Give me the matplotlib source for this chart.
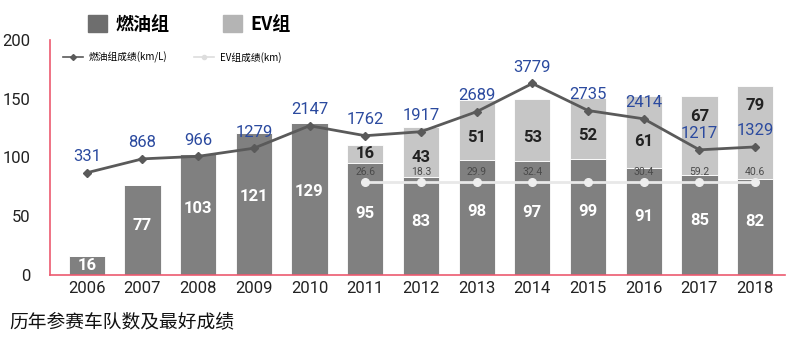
import matplotlib.pyplot as plt
from matplotlib.patches import Patch
from matplotlib.lines import Line2D

plt.rcParams['font.family'] = ['Roboto', 'Noto Sans CJK SC', 'DejaVu Sans']

# data
years = ['2006', '2007', '2008', '2009', '2010', '2011', '2012',
         '2013', '2014', '2015', '2016', '2017', '2018']
fuel_teams = [16, 77, 103, 121, 129, 95, 83, 98, 97, 99, 91, 85, 82]
ev_teams = [0, 0, 0, 0, 0, 16, 43, 51, 53, 52, 61, 67, 79]
fuel_best = [331, 868, 966, 1279, 2147, 1762, 1917, 2689, 3779, 2735, 2414, 1217, 1329]
ev_best = [None, None, None, None, None, 26.6, 18.3, 29.9, 32.4, None, 30.4, 59.2, 40.6]

DARK = '#808080'
LIGHT = '#c6c6c6'
RED = '#ec5a70'
BLUE = '#2b4a9f'
LINE = '#5a5a5a'

fig = plt.figure(figsize=(8, 3.42), dpi=100)
ax = fig.add_axes([0.0625, 0.196, 0.919, 0.687])
x = list(range(len(years)))
w = 0.65

ax.bar(x, fuel_teams, width=w, color=DARK, edgecolor='white', linewidth=0.6, zorder=2)
ax.bar(x, ev_teams, width=w, bottom=fuel_teams, color=LIGHT, edgecolor='white',
       linewidth=0.6, zorder=2)

# fuel best result mapped onto a hidden secondary axis
ax2 = ax.twinx()
lo, hi = -3616, 5458
ax2.set_ylim(lo, hi)


def on_left(v):
    # secondary axis value -> left axis units
    return (v - lo) / (hi - lo) * 200


# team counts
for i, v in enumerate(fuel_teams):
    ypos = 8 if v < 30 else v * 0.55
    ax.text(i, ypos, str(v), ha='center', va='center', color='white',
            fontsize=12, fontweight='bold', zorder=5)
for i, (f, e) in enumerate(zip(fuel_teams, ev_teams)):
    if e:
        ypos = f + e * 0.3 + 4
        if abs(on_left(fuel_best[i]) - ypos) < 12:
            ypos = f + e - 17
        ax.text(i, ypos, str(e), ha='center', va='center', color='#222222',
                fontsize=12, fontweight='bold', zorder=5)

# EV best result line (constant level guide)
ev_idx = [i for i in x if ev_teams[i]]
ev_level = 79
ax.plot(ev_idx, [ev_level] * len(ev_idx), color='#e8e8e8', lw=2, marker='o',
        markersize=5.5, markerfacecolor='#eeeeee', markeredgecolor='#eeeeee', zorder=3)
for i in ev_idx:
    if ev_best[i] is not None:
        ax.text(i, ev_level + 8.5, f'{ev_best[i]:.1f}', ha='center', va='center',
                color='#4a4a4a', fontsize=7.5, zorder=5)

ax2.plot(x, fuel_best, color=LINE, lw=2, marker='D', markersize=4.5, zorder=4)
for i, v in enumerate(fuel_best):
    ax2.text(i, v + 330, str(v), ha='center', va='bottom', color=BLUE, fontsize=12)
ax2.axis('off')

ax.set_xlim(-0.66, 12.54)
ax.set_ylim(0, 200)
ax.set_yticks([0, 50, 100, 150, 200])
ax.set_xticks(x)
ax.set_xticklabels(years)
ax.tick_params(axis='both', length=0, labelsize=12, colors='#222222')
ax.tick_params(axis='y', pad=14)
ax.tick_params(axis='x', pad=4)
for s in ['top', 'right']:
    ax.spines[s].set_visible(False)
for s in ['left', 'bottom']:
    ax.spines[s].set_color(RED)
    ax.spines[s].set_linewidth(1.2)

# legends
big = ax.legend(handles=[Patch(color='#6e6e6e', label='燃油组'),
                         Patch(color='#b4b4b4', label='EV组')],
                ncol=2, loc='center left', bbox_to_anchor=(0.052, 1.068),
                frameon=False, handlelength=1.05, handleheight=1.05,
                columnspacing=3.0, handletextpad=0.45, borderpad=0, borderaxespad=0,
                prop={'family': ['Noto Sans CJK SC'], 'weight': 'bold', 'size': 13})
ax.add_artist(big)
ax.legend(handles=[Line2D([], [], color=LINE, marker='D', markersize=3, lw=1.2,
                          label='燃油组成绩(km/L)'),
                   Line2D([], [], color='#dddddd', marker='o', markersize=3, lw=1.2,
                          label='EV组成绩(km)')],
          ncol=2, loc='center left', bbox_to_anchor=(0.018, 0.925), frameon=False,
          handlelength=2, columnspacing=2.8, handletextpad=0.6,
          borderpad=0, borderaxespad=0,
          prop={'family': ['Noto Sans CJK SC'], 'size': 7})

fig.text(0.012, 0.058, '历年参赛车队数及最好成绩', fontsize=13.5, color='#111111',
         family=['Noto Sans CJK SC'], va='center')

fig.savefig('out.png', dpi=100, facecolor='white')
